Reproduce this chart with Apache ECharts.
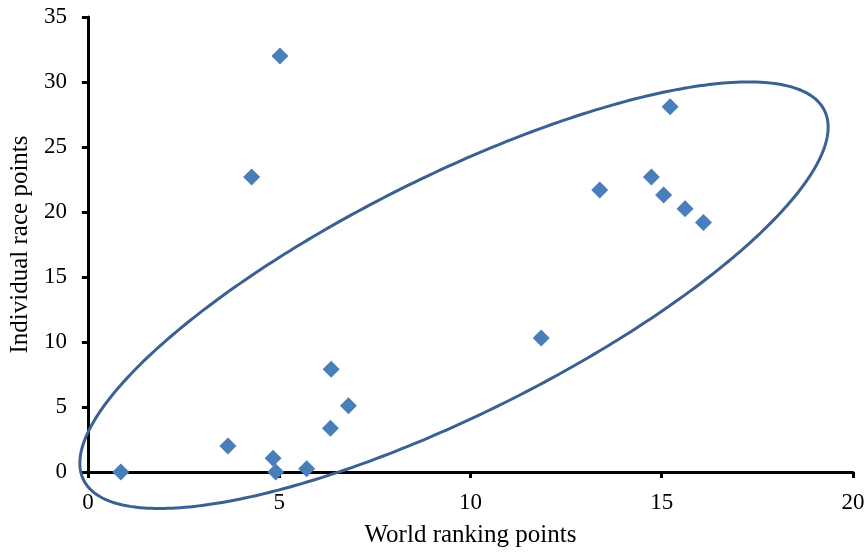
<!DOCTYPE html>
<html>
<head>
<meta charset="utf-8">
<script src="https://cdn.jsdelivr.net/npm/echarts@6/dist/echarts.min.js"></script>
<style>html,body{margin:0;padding:0;background:#fff}#c{width:868px;height:554px}</style>
</head>
<body>
<div id="c"></div>
<script>
// Data
const worldRankingPoints = [0.86, 3.66, 4.84, 4.91, 5.72, 6.36, 6.34, 6.81, 5.02, 4.28, 11.85, 15.22, 13.38, 14.73, 15.05, 15.61, 16.09];
const individualRacePoints = [0.0, 2.0, 1.05, 0.0, 0.25, 7.9, 3.36, 5.1, 32.0, 22.7, 10.3, 28.1, 21.7, 22.7, 21.3, 20.25, 19.2];
const xTicks = [0, 5, 10, 15, 20];
const yTicks = [0, 5, 10, 15, 20, 25, 30, 35];
// Ellipse annotation in data units: centre + conjugate semi-diameters
const ellipseCenter = [9.57, 13.6];
const ellipseU = [9.78, 12.92];
const ellipseV = [0, 10.11];

const points = worldRankingPoints.map((x, i) => [x, individualRacePoints[i]]);
const font = '"Liberation Serif", "Times New Roman", serif';

const chart = echarts.init(document.getElementById('c'));
chart.setOption({
  animation: false,
  backgroundColor: '#ffffff',
  grid: { left: 87, right: 15, top: 17, bottom: 82, containLabel: false },
  xAxis: {
    type: 'value', min: xTicks[0], max: xTicks[xTicks.length - 1], interval: 5,
    name: 'World ranking points', nameLocation: 'middle', nameGap: 51,
    nameTextStyle: { fontFamily: font, fontSize: 25, color: '#000' },
    axisLine: { show: true, lineStyle: { color: '#000', width: 3 } },
    axisTick: { show: true, inside: false, length: 6, lineStyle: { color: '#000', width: 3 } },
    axisLabel: { fontFamily: font, fontSize: 23, color: '#000', margin: 19 },
    splitLine: { show: false }
  },
  yAxis: {
    type: 'value', min: yTicks[0], max: yTicks[yTicks.length - 1], interval: 5,
    name: 'Individual race points', nameLocation: 'middle', nameGap: 52,
    nameTextStyle: { fontFamily: font, fontSize: 25, color: '#000' },
    axisLine: { show: true, lineStyle: { color: '#000', width: 3 } },
    axisTick: { show: true, inside: false, length: 6, lineStyle: { color: '#000', width: 3 } },
    axisLabel: { fontFamily: font, fontSize: 23, color: '#000', margin: 21 },
    splitLine: { show: false }
  },
  series: [
    {
      type: 'custom',
      clip: false,
      silent: true,
      z: 1,
      data: [0],
      renderItem: function (params, api) {
        const pts = [];
        for (let k = 0; k < 360; k++) {
          const t = k * Math.PI / 180;
          const x = ellipseCenter[0] + ellipseU[0] * Math.cos(t) + ellipseV[0] * Math.sin(t);
          const y = ellipseCenter[1] + ellipseU[1] * Math.cos(t) + ellipseV[1] * Math.sin(t);
          pts.push(api.coord([x, y]));
        }
        return {
          type: 'polygon',
          shape: { points: pts, smooth: 0 },
          style: { fill: 'none', stroke: '#3b6192', lineWidth: 3 }
        };
      }
    },
    {
      type: 'scatter',
      z: 3,
      symbol: 'diamond',
      symbolSize: 17,
      itemStyle: { color: '#4a7ebb', opacity: 1 },
      data: points
    }
  ]
});
</script>
</body>
</html>
